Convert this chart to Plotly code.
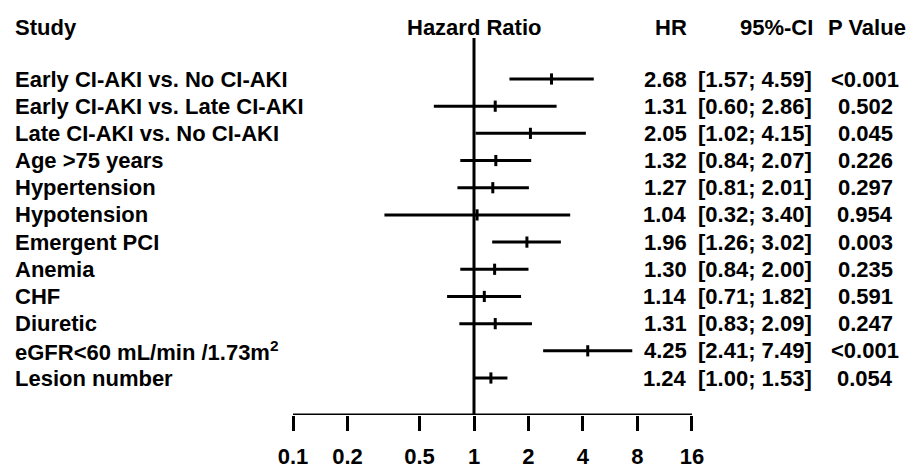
import plotly.graph_objects as go

# ---- data ----
studies = [
    "Early CI-AKI vs. No CI-AKI",
    "Early CI-AKI vs. Late CI-AKI",
    "Late CI-AKI vs. No CI-AKI",
    "Age &gt;75 years",
    "Hypertension",
    "Hypotension",
    "Emergent PCI",
    "Anemia",
    "CHF",
    "Diuretic",
    "eGFR&lt;60 mL/min /1.73m<sup>2</sup>",
    "Lesion number",
]
hr = [2.68, 1.31, 2.05, 1.32, 1.27, 1.04, 1.96, 1.30, 1.14, 1.31, 4.25, 1.24]
ci_low = [1.57, 0.60, 1.02, 0.84, 0.81, 0.32, 1.26, 0.84, 0.71, 0.83, 2.41, 1.00]
ci_high = [4.59, 2.86, 4.15, 2.07, 2.01, 3.40, 3.02, 2.00, 1.82, 2.09, 7.49, 1.53]
p_values = ["&lt;0.001", "0.502", "0.045", "0.226", "0.297", "0.954",
            "0.003", "0.235", "0.591", "0.247", "&lt;0.001", "0.054"]
tick_vals = [0.1, 0.2, 0.5, 1, 2, 4, 8, 16]
tick_text = ["0.1", "0.2", "0.5", "1", "2", "4", "8", "16"]

# ---- geometry ----
W, H = 908, 469
n = len(studies)
rows = list(range(1, n + 1))
row1_px, rown_px, axis_px = 79, 378, 415
step = (rown_px - row1_px) / (n - 1)
y_top = 1 - row1_px / step
y_bot = 1 + (axis_px - row1_px) / step
header_y = 1 + (27 - row1_px) / step
vline_top = 1 + (38 - row1_px) / step
ref_px, px_per_dec = 474, 181.0
x_range = [(0 - ref_px) / px_per_dec, (W - ref_px) / px_per_dec]

FONT = dict(family="Liberation Sans, Arial, sans-serif", size=22, color="black", weight="bold")

fig = go.Figure()
fig.add_trace(go.Scatter(
    x=hr, y=rows, mode="markers",
    marker=dict(symbol="line-ns", size=8, line=dict(width=3, color="black"), color="black"),
    error_x=dict(type="data", symmetric=False,
                 array=[h - m for h, m in zip(ci_high, hr)],
                 arrayminus=[m - l for m, l in zip(hr, ci_low)],
                 width=0, thickness=3, color="black"),
    hoverinfo="skip", showlegend=False,
))

# reference line at HR = 1 and axis line
fig.add_shape(type="line", xref="x", yref="y", x0=1, x1=1, y0=vline_top, y1=y_bot,
              line=dict(color="black", width=3))
fig.add_shape(type="line", xref="x", yref="y", x0=tick_vals[0], x1=tick_vals[-1], y0=y_bot, y1=y_bot,
              line=dict(color="black", width=3))

ann = []
def px(x):
    return x / W

# headers
ann.append(dict(text="Study", x=px(13), xanchor="left", y=header_y))
ann.append(dict(text="Hazard Ratio", x=px(474), xanchor="center", y=header_y))
ann.append(dict(text="HR", x=px(689), xanchor="right", y=header_y))
ann.append(dict(text="95%-CI", x=px(815), xanchor="right", y=header_y))
ann.append(dict(text="P Value", x=px(867), xanchor="center", y=header_y))

for r, s, h, l, u, p in zip(rows, studies, hr, ci_low, ci_high, p_values):
    ann.append(dict(text=s, x=px(13), xanchor="left", y=r))
    ann.append(dict(text=f"{h:.2f}", x=px(689), xanchor="right", y=r))
    ann.append(dict(text=f"[{l:.2f}; {u:.2f}]", x=px(814), xanchor="right", y=r))
    ann.append(dict(text=p, x=px(865), xanchor="center", y=r))

for a in ann:
    a.update(xref="paper", yref="y", yanchor="middle", showarrow=False, font=FONT)

fig.update_layout(
    width=W, height=H,
    margin=dict(l=0, r=0, t=0, b=0),
    paper_bgcolor="white", plot_bgcolor="white",
    annotations=ann,
    xaxis=dict(type="log", range=x_range, showgrid=False, zeroline=False, showline=False,
               tickvals=tick_vals, ticktext=tick_text, ticks="outside", ticklen=15,
               tickwidth=3, tickcolor="black", tickfont=FONT, ticklabelstandoff=7,
               fixedrange=True),
    yaxis=dict(range=[y_bot, y_top], domain=[(H - axis_px) / H, 1], visible=False,
               showgrid=False, zeroline=False, fixedrange=True),
)

fig.write_html("out.html", config={"displayModeBar": False},
               post_script="document.body.style.margin='0px';document.body.style.overflow='hidden';")
